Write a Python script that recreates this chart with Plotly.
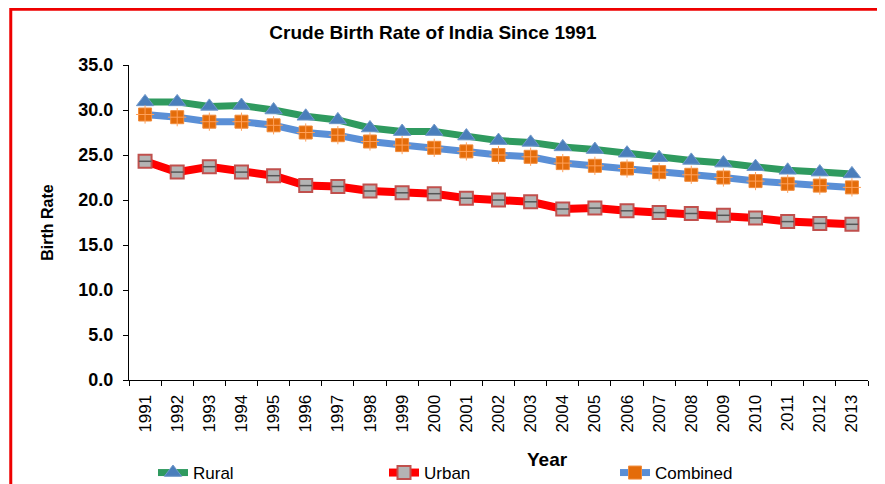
import plotly.graph_objects as go

years = [str(y) for y in range(1991, 2014)]
rural = [30.9, 30.9, 30.4, 30.5, 30.0, 29.3, 28.9, 28.0, 27.6, 27.6, 27.1, 26.6,
         26.4, 25.9, 25.6, 25.2, 24.7, 24.4, 24.1, 23.7, 23.3, 23.1, 22.9]
urban = [24.3, 23.1, 23.7, 23.1, 22.7, 21.6, 21.5, 21.0, 20.8, 20.7, 20.2, 20.0,
         19.8, 19.0, 19.1, 18.8, 18.6, 18.5, 18.3, 18.0, 17.6, 17.4, 17.3]
combined = [29.5, 29.2, 28.7, 28.7, 28.3, 27.5, 27.2, 26.5, 26.1, 25.8, 25.4, 25.0,
            24.8, 24.1, 23.8, 23.5, 23.1, 22.8, 22.5, 22.1, 21.8, 21.6, 21.4]

FONT = "Liberation Sans, Arial, sans-serif"
W, H = 877, 476  # la page ajoute 8px de marge autour

fig = go.Figure()

# Rural
fig.add_trace(go.Scatter(
    x=years, y=rural, mode="lines+markers", name="Rural",
    line={'color': '#2f9a5f', 'width': 7},
    marker={'symbol': 'triangle-up', 'size': 15, 'color': '#4a7ebb',
            'line': {'width': 1, 'color': '#6f97c9'}}
))

# Urban
fig.add_trace(go.Scatter(
    x=years, y=urban, mode="lines+markers", name="Urban",
    line={'color': '#ff0000', 'width': 8},
    marker={'symbol': 'square', 'size': 13, 'color': '#b4b4b4',
            'line': {'width': 2, 'color': '#c0504d'}}
))
fig.add_trace(go.Scatter(
    x=years, y=urban, mode="markers", showlegend=False, hoverinfo="skip",
    marker={'symbol': 'line-ew', 'size': 9,
            'line': {'width': 1.5, 'color': '#555555'}}
))

# Combined
fig.add_trace(go.Scatter(
    x=years, y=combined, mode="lines+markers", name="Combined",
    line={'color': '#5a8fd6', 'width': 7},
    marker={'symbol': 'square', 'size': 13, 'color': '#e46c0a',
            'line': {'width': 1, 'color': '#f08a3a'}}
))
fig.add_trace(go.Scatter(
    x=years, y=combined, mode="markers", showlegend=False, hoverinfo="skip",
    marker={'symbol': 'cross-thin-open', 'size': 13,
            'line': {'width': 1, 'color': '#9bbb59'}}
))

fig.update_xaxes(
    type="category", automargin=False, range=[-0.5, 22.5],
    tickangle=-90, ticklabelstandoff=7,
    tickfont={'family': FONT, 'size': 17, 'color': 'black'},
    showline=True, linecolor='black', linewidth=1,
    ticks="outside", ticklen=5, tickcolor='black', tickson="boundaries",
    showgrid=False,
)

fig.update_yaxes(
    range=[0, 35], dtick=5, tickformat=".1f", automargin=False,
    ticklabelstandoff=6,
    tickfont={'family': FONT, 'size': 18, 'color': 'black', 'weight': 'bold'},
    showline=True, linecolor='black', linewidth=1,
    ticks="outside", ticklen=5, tickcolor='black',
    showgrid=False, zeroline=False,
    title={'text': "Birth Rate", 'font': {'family': FONT, 'size': 16, 'color': 'black', 'weight': 'bold'},
           'standoff': 20}
)

# titre de l'axe x décalé comme dans Excel
fig.add_annotation(text="Year", xref="paper", yref="paper",
                   x=(539 - 121) / (W - 121 - 17), xanchor="center",
                   y=(372 - 451) / (H - 57 - 104), yanchor="middle",
                   showarrow=False,
                   font={'family': FONT, 'size': 19, 'color': 'black', 'weight': 'bold'})

# cadre rouge
fig.add_shape(type="rect", xref="paper", yref="paper",
              x0=-0.16, x1=1.2, y0=-0.5, y1=1.177,
              line={'color': '#ee0000', 'width': 3})

fig.update_layout(
    width=W, height=H,
    margin={'l': 121, 'r': 17, 't': 57, 'b': 104, 'autoexpand': False},
    paper_bgcolor='white', plot_bgcolor='white',
    title={'text': "Crude Birth Rate of India Since 1991",
           'font': {'family': FONT, 'size': 19, 'color': 'black', 'weight': 'bold'},
           'x': 425 / W, 'xanchor': 'center', 'xref': 'container',
           'y': 1 - 24 / H, 'yanchor': 'middle', 'yref': 'container'},
    legend={'orientation': 'h', 'xref': 'container', 'yref': 'container',
            'x': 145 / W, 'xanchor': 'left', 'y': 1 - 465 / H, 'yanchor': 'middle',
            'entrywidth': 186, 'entrywidthmode': 'pixels',
            'font': {'family': FONT, 'size': 17, 'color': 'black'},
            'bgcolor': 'rgba(0,0,0,0)'},
    showlegend=True,
)

fig.write_html("out.html")
